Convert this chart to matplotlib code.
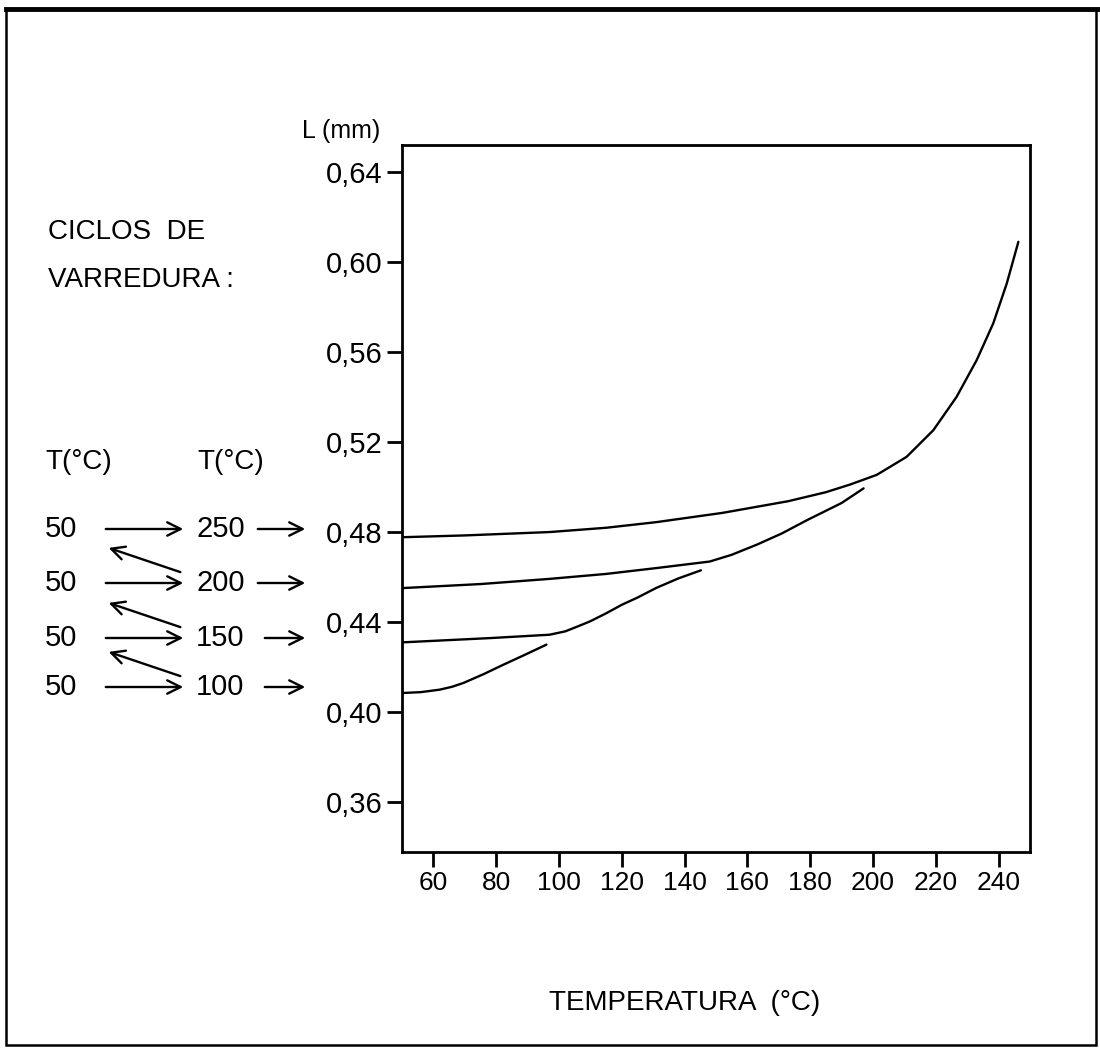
import matplotlib
matplotlib.use('Agg')
import matplotlib.pyplot as plt
from matplotlib.patches import Rectangle, FancyArrowPatch

plt.rcParams['font.family'] = ['Liberation Sans', 'DejaVu Sans']

# cycle 50 -> 250
t_250 = [50, 70, 97, 115, 131, 152, 173, 185, 192.7, 201.2, 210.7, 219.2, 226.6, 233, 238.3, 242.6, 246.3]
L_250 = [0.4778, 0.4786, 0.4801, 0.4820, 0.4845, 0.4886, 0.4938, 0.4978, 0.5012, 0.5055, 0.5135, 0.5253,
         0.5401, 0.5564, 0.5728, 0.5905, 0.6090]
# cycle 50 -> 200
t_200 = [50, 75, 97, 115, 131, 148, 155, 163, 171, 179, 190, 197]
L_200 = [0.4552, 0.4570, 0.4593, 0.4615, 0.4641, 0.4670, 0.4700, 0.4745, 0.4795, 0.4854, 0.4930, 0.4995]
# cycle 50 -> 150
t_150 = [50, 78, 97, 102, 106, 110, 115, 120, 125, 131, 138, 145.2]
L_150 = [0.4311, 0.4330, 0.4345, 0.4360, 0.4382, 0.4405, 0.4440, 0.4478, 0.4510, 0.4553, 0.4595, 0.4631]
# cycle 50 -> 100
t_100 = [50, 56, 62, 66, 69.6, 76, 82.3, 89, 96]
L_100 = [0.4086, 0.4090, 0.4101, 0.4114, 0.4131, 0.4170, 0.4212, 0.4255, 0.4301]

x_ticks = [60, 80, 100, 120, 140, 160, 180, 200, 220, 240]
y_ticks = [0.36, 0.40, 0.44, 0.48, 0.52, 0.56, 0.60, 0.64]
y_labels = ['0,36', '0,40', '0,44', '0,48', '0,52', '0,56', '0,60', '0,64']

cycle_start = ['50', '50', '50', '50']
cycle_end = ['250', '200', '150', '100']

W, H = 1100, 1053
fig = plt.figure(figsize=(W / 100, H / 100), dpi=100)
ax = fig.add_axes([402 / W, 1 - 852 / H, (1030 - 402) / W, (852 - 145) / H])

for t, L in [(t_250, L_250), (t_200, L_200), (t_150, L_150), (t_100, L_100)]:
    ax.plot(t, L, color='black', lw=1.7, solid_capstyle='round', solid_joinstyle='round')

ax.set_xlim(50, 250)
ax.set_ylim(0.338, 0.652)
ax.set_xticks(x_ticks)
ax.set_xticklabels([str(v) for v in x_ticks], fontsize=19)
ax.set_yticks(y_ticks)
ax.set_yticklabels(y_labels, fontsize=21)
ax.tick_params(direction='out', length=11, width=2, pad=3)
for s in ax.spines.values():
    s.set_linewidth(2)


def px(x, y):
    # reference pixel position -> figure fraction
    return x / W, 1 - y / H


fig.text(*px(302, 131), 'L (mm)', fontsize=18, va='center', ha='left')
fig.text(*px(685, 1003), 'TEMPERATURA  (°C)', fontsize=20, va='center', ha='center')
fig.text(*px(48, 232), 'CICLOS  DE', fontsize=20, va='center', ha='left')
fig.text(*px(48, 280), 'VARREDURA :', fontsize=20, va='center', ha='left')
fig.text(*px(45, 462), 'T(°C)', fontsize=20, va='center', ha='left')
fig.text(*px(197, 462), 'T(°C)', fontsize=20, va='center', ha='left')

rows = [529, 583, 638, 687]
arr = dict(arrowstyle='->', lw=1.7, color='black', mutation_scale=24)
for i, y in enumerate(rows):
    fig.text(*px(45, y), cycle_start[i], fontsize=21, va='center', ha='left')
    fig.text(*px(196, y), cycle_end[i], fontsize=21, va='center', ha='left')
    fig.add_artist(FancyArrowPatch(px(103, y), px(186, y), transform=fig.transFigure, **arr))
    x0 = 255 if i < 2 else 262
    fig.add_artist(FancyArrowPatch(px(x0, y), px(308, y), transform=fig.transFigure, **arr))
    if i > 0:
        fig.add_artist(FancyArrowPatch(px(183, y - 10), px(106, y - 36), transform=fig.transFigure, **arr))

# outer frame
fig.add_artist(Rectangle(px(6, 1045), (1096 - 6) / W, (1045 - 9) / H, transform=fig.transFigure,
                         fill=False, lw=1.8, color='black'))
fig.add_artist(plt.Line2D([6 / W, 1 - 2 / W], [1 - 9 / H, 1 - 9 / H], transform=fig.transFigure,
                          lw=3.5, color='black'))

fig.savefig('out.png', dpi=100)
